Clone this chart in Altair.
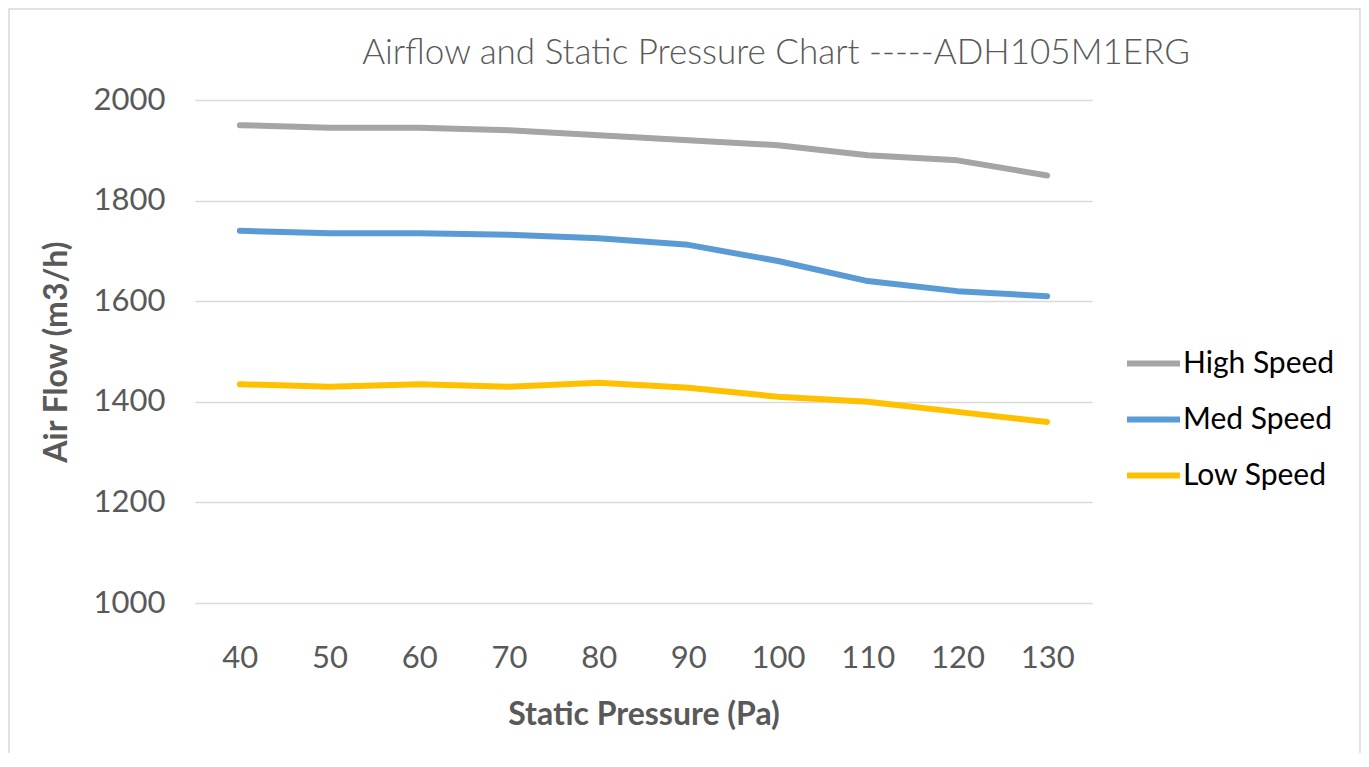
import altair as alt
import pandas as pd

pressure = [40, 50, 60, 70, 80, 90, 100, 110, 120, 130]
high_speed = [1950, 1945, 1945, 1940, 1930, 1920, 1910, 1890, 1880, 1850]
med_speed = [1740, 1735, 1735, 1732, 1725, 1712, 1680, 1640, 1620, 1610]
low_speed = [1435, 1430, 1435, 1430, 1438, 1428, 1410, 1400, 1380, 1360]
series_names = ["High Speed", "Med Speed", "Low Speed"]
series_colors = ["#a5a5a5", "#5b9bd5", "#ffc000"]
y_ticks = [1000, 1200, 1400, 1600, 1800, 2000]
chart_title = "Airflow and Static Pressure Chart -----ADH105M1ERG"

rows = []
for name, vals in zip(series_names, [high_speed, med_speed, low_speed]):
    for p, v in zip(pressure, vals):
        rows.append({"Pressure": p, "Airflow": v, "Series": name})
df = pd.DataFrame(rows)

FONT = "Lato"
GREY = "#595959"

lines = alt.Chart(df).mark_line(
    strokeWidth=6, strokeCap="round", strokeJoin="round"
).encode(
    x=alt.X(
        "Pressure:O",
        sort=pressure,
        title="Static Pressure (Pa)",
        axis=alt.Axis(
            labelAngle=0, labelFontSize=31, labelColor=GREY, labelFont=FONT,
            labelPadding=40, domain=False, ticks=False, grid=False,
            titleFontSize=32, titleFont=FONT, titleFontWeight="bold",
            titleColor=GREY, titlePadding=26,
        ),
        scale=alt.Scale(type="point", padding=0.5),
    ),
    y=alt.Y(
        "Airflow:Q",
        title="Air Flow (m3/h)",
        scale=alt.Scale(domain=[1000, 2000], nice=False, zero=False),
        axis=alt.Axis(
            values=y_ticks, format="d", labelFontSize=31, labelColor=GREY,
            labelFont=FONT, labelPadding=30, domain=False, ticks=False,
            grid=True, gridColor="#d9d9d9", gridWidth=1.5,
            titleFontSize=32, titleFont=FONT, titleFontWeight="bold",
            titleColor=GREY, titlePadding=20,
        ),
    ),
    color=alt.Color(
        "Series:N",
        sort=series_names,
        scale=alt.Scale(domain=series_names, range=series_colors),
        legend=alt.Legend(
            title=None, orient="none", legendX=929, legendY=234,
            symbolType="stroke", symbolSize=2809, symbolStrokeWidth=6,
            labelFontSize=30, labelFont=FONT, labelColor="black",
            labelOffset=0, rowPadding=11, padding=0,
        ),
    ),
)

title_mark = alt.Chart(pd.DataFrame({"t": [chart_title]})).mark_text(
    font=FONT, fontSize=35, fontWeight=300, color=GREY,
    align="center", baseline="alphabetic",
).encode(text="t:N", x=alt.value(581), y=alt.value(-36))

border = alt.Chart(pd.DataFrame({"a": [0]})).mark_rect(
    fillOpacity=0, stroke="#d9d9d9", strokeWidth=1.5
).encode(
    x=alt.value(-186), x2=alt.value(1165), y=alt.value(-91), y2=alt.value(700)
)

chart = alt.layer(border, lines, title_mark).properties(
    width=897,
    height=503,
    background="white",
    autosize=alt.AutoSizeParams(type="none"),
    padding={"left": 187, "top": 92, "right": 269, "bottom": 150},
).configure_view(stroke="transparent", strokeWidth=0)

chart.save("out.html", embed_options={"renderer": "svg", "actions": False})
